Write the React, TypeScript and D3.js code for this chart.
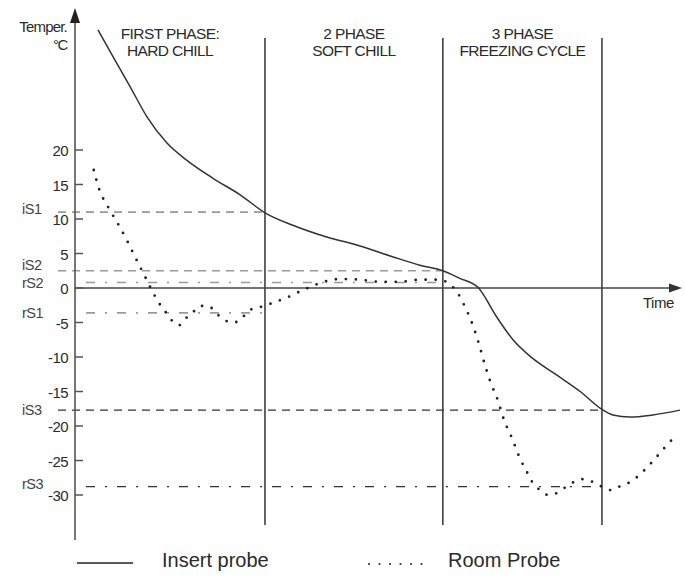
import React from "react";
import * as d3 from "d3";

// ---- data ----
const yTicks = [20, 15, 10, 5, 0, -5, -10, -15, -20, -25, -30];

// Insert probe (solid): time (arbitrary units 0..100), temperature °C
const insertTime = [3.8, 6.3, 9.1, 11.9, 15.2, 18.5, 22.8, 27.3, 31.4, 36, 41.6, 47.1, 52.6, 57, 60.8, 63.6, 66.6, 69.7, 72.4, 75.5, 79.6, 83.5, 87.1, 88.9, 91.7, 95.5, 100];
const insertTemp = [37.4, 33.5, 29.2, 24.8, 21, 18.5, 15.9, 13.5, 10.9, 9.1, 7.4, 6.1, 4.5, 3.3, 2.5, 1.4, 0.1, -4.2, -7.5, -10.1, -12.6, -15, -17.6, -18.4, -18.7, -18.4, -17.7];

// Room probe (dotted)
const roomTime = [3.1, 4.0, 5.5, 7.1, 8.7, 10.1, 11.6, 13.1, 13.9, 14.9, 15.8, 17.2, 18.3, 19.4, 20.7, 22.2, 23.4, 24.6, 26.2, 27.6, 28.6, 30.1, 34.7, 37.7, 40.8, 43.8, 47.1, 50.4, 53.7, 57, 60.2, 61.7, 63, 64.5, 65.8, 66.8, 67.7, 68.7, 69.9, 70.9, 72.2, 73.4, 74.9, 75.7, 76.9, 78.2, 79.7, 81.2, 82.5, 84, 85.6, 87.1, 88.6, 89.9, 91.4, 92.9, 95.2, 97.4, 99.5];
const roomTemp = [17.1, 14.3, 11.7, 9.3, 6.7, 4.2, 1.6, -1.0, -2.2, -3.4, -4.5, -5.4, -4.4, -3.6, -2.6, -2.7, -3.7, -4.6, -5.0, -4.4, -3.3, -2.9, -1.5, -0.3, 0.8, 1.3, 1.2, 0.9, 0.9, 1.2, 1.2, 0.7, -0.4, -2.8, -5.5, -8.2, -11.0, -13.7, -16.3, -19.1, -21.7, -24.4, -27.0, -28.3, -29.3, -30.0, -29.7, -28.8, -28.1, -27.7, -28.1, -28.8, -29.3, -28.8, -28.3, -27.4, -25.4, -23.2, -21.2];

// Phases
const phaseBounds = [31.4, 60.8, 87.1];
const phaseStarts = [0, 31.4, 60.8];
const phaseLine1 = ["FIRST PHASE:", "2 PHASE", "3 PHASE"];
const phaseLine2 = ["HARD CHILL", "SOFT CHILL", "FREEZING CYCLE"];

// Set points
const setNames = ["iS1", "iS2", "rS2", "rS1", "iS3", "rS3"];
const setValues = [11, 2.5, 0.8, -3.6, -17.7, -28.8];
const setEnds = [31.4, 60.8, 60.8, 31.4, 87.1, 87.1];

const legendLabels = ["Insert probe", "Room Probe"];

// ---- layout ----
const W = 685;
const H = 583;
const axisX = 75;
const FONT = "'Liberation Sans', Arial, Helvetica, sans-serif";

export default function App() {
  const x = d3.scaleLinear().domain([0, 100]).range([75, 680]);
  const y = d3.scaleLinear().domain([-30, 20]).range([495, 150]);

  const line = d3
    .line<[number, number]>()
    .x((d) => x(d[0]))
    .y((d) => y(d[1]))
    .curve(d3.curveMonotoneX);

  const insertPts = insertTime.map((t, i) => [t, insertTemp[i]] as [number, number]);
  const roomPts = roomTime.map((t, i) => [t, roomTemp[i]] as [number, number]);

  const zeroY = y(0);
  const axisTop = 10;
  const axisBottom = 540;
  const xEnd = 682;

  const setStyle = (name: string) => {
    const dashed = name.startsWith("i");
    const dark = name.endsWith("3");
    return {
      stroke: dark ? "#333" : "#9a9a9a",
      dash: dashed ? "8 6" : "9 10 2 10",
      startX: dashed ? 58 : 86,
      width: dark ? 1.3 : 1.6,
    };
  };
  const labelDy: Record<string, number> = { iS1: -3, iS2: -6, rS2: 0, rS1: 0, iS3: 0, rS3: -3 };

  return (
    <svg
      width={W}
      height={H}
      style={{ position: "absolute", left: 0, top: 0, background: "#fff" }}
      fontFamily={FONT}
    >
      <rect width={W} height={H} fill="#fff" />

      {/* set-point reference lines */}
      {setNames.map((n, i) => {
        const s = setStyle(n);
        return (
          <line
            key={n}
            x1={s.startX}
            x2={x(setEnds[i])}
            y1={y(setValues[i])}
            y2={y(setValues[i])}
            stroke={s.stroke}
            strokeWidth={s.width}
            strokeDasharray={s.dash}
          />
        );
      })}
      {setNames.map((n, i) => (
        <text
          key={"l" + n}
          x={22}
          y={y(setValues[i]) + labelDy[n]}
          dy="0.35em"
          fontSize={14.5}
          letterSpacing={-0.5}
          fill="#444"
        >
          {n}
        </text>
      ))}

      {/* phase boundaries */}
      {phaseBounds.map((b) => (
        <line key={b} x1={x(b)} x2={x(b)} y1={38} y2={525} stroke="#333" strokeWidth={1.5} />
      ))}
      {phaseBounds.map((b, i) => {
        const cx = (x(phaseStarts[i]) + x(b)) / 2;
        return (
          <g key={"p" + i} fill="#2a2a2a" fontSize={15.5} letterSpacing={-0.6} textAnchor="middle">
            <text x={cx} y={38.5}>{phaseLine1[i]}</text>
            <text x={cx} y={55.5}>{phaseLine2[i]}</text>
          </g>
        );
      })}

      {/* x axis (zero line) */}
      <line x1={axisX} x2={xEnd - 10} y1={zeroY} y2={zeroY} stroke="#444" strokeWidth={1.6} />
      <path d={`M${xEnd},${zeroY} L${xEnd - 13},${zeroY - 4.5} L${xEnd - 13},${zeroY + 4.5} Z`} fill="#333" />
      <text x={643} y={308} fontSize={15} letterSpacing={-0.5} fill="#2a2a2a">Time</text>

      {/* y axis */}
      <line x1={axisX} x2={axisX} y1={axisTop + 10} y2={axisBottom} stroke="#555" strokeWidth={1.6} />
      <path d={`M${axisX},${axisTop - 2} L${axisX - 5},${axisTop + 13} L${axisX + 5},${axisTop + 13} Z`} fill="#222" />
      {yTicks.map((t) => (
        <g key={t}>
          <line x1={axisX} x2={axisX + 8} y1={y(t)} y2={y(t)} stroke="#555" strokeWidth={1.5} />
          <text
            x={68}
            y={y(t) + 1}
            dy="0.35em"
            textAnchor="end"
            fontSize={15}
            letterSpacing={-0.6}
            fill="#2a2a2a"
          >
            {t}
          </text>
        </g>
      ))}
      <text x={67} y={32} textAnchor="end" fontSize={15} letterSpacing={-0.8} fill="#2a2a2a">Temper.</text>
      <text x={67} y={50} textAnchor="end" fontSize={15} letterSpacing={-1.4} fill="#2a2a2a">°C</text>

      {/* series */}
      <path d={line(insertPts) || ""} fill="none" stroke="#333" strokeWidth={1.5} />
      <path
        d={line(roomPts) || ""}
        fill="none"
        stroke="#222"
        strokeWidth={2.8}
        strokeLinecap="round"
        strokeDasharray="0 10"
      />

      {/* legend */}
      <line x1={77} x2={133} y1={563} y2={563} stroke="#222" strokeWidth={1.5} />
      <text x={162} y={567} fontSize={20} fill="#2a2a2a">{legendLabels[0]}</text>
      <line
        x1={369}
        x2={422}
        y1={564}
        y2={564}
        stroke="#333"
        strokeWidth={2.2}
        strokeLinecap="round"
        strokeDasharray="0 10.5"
      />
      <text x={448} y={567} fontSize={20} fill="#2a2a2a">{legendLabels[1]}</text>
    </svg>
  );
}
